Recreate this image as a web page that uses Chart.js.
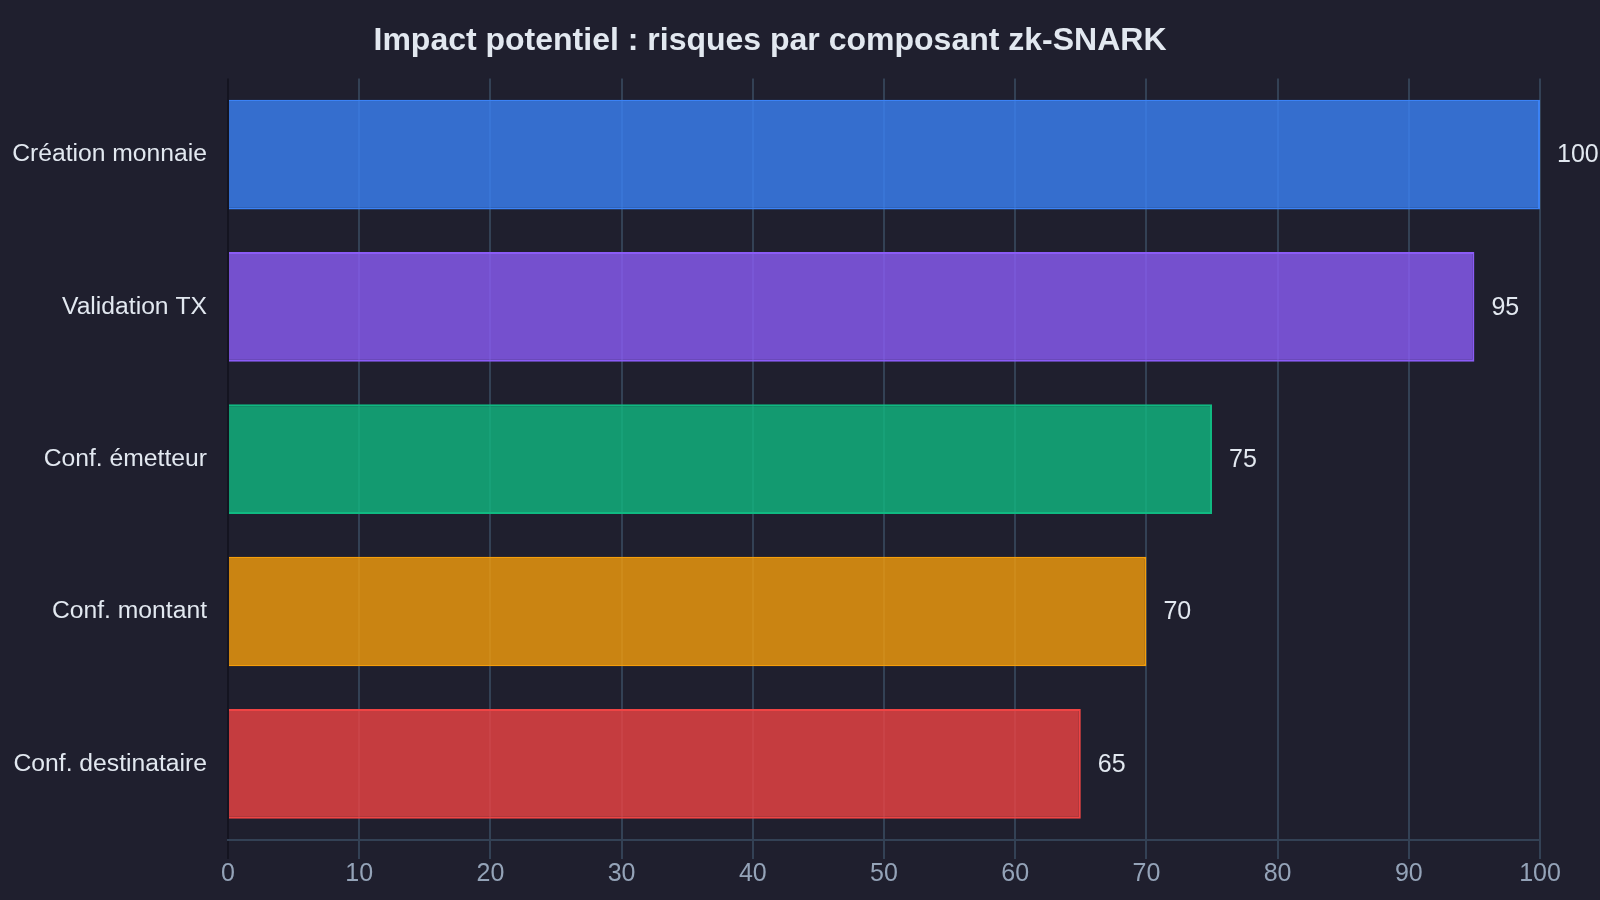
<!DOCTYPE html>
<html>
<head>
<meta charset="utf-8">
<script src="https://cdn.jsdelivr.net/npm/chart.js@4.4.1/dist/chart.umd.min.js"></script>
<style>
html,body{margin:0;padding:0;background:#1f1f2e;}
canvas{display:block;}
</style>
</head>
<body>
<canvas id="c" width="1600" height="900"></canvas>
<script>
const titleText = 'Impact potentiel : risques par composant zk-SNARK';
const categories = ['Création monnaie', 'Validation TX', 'Conf. émetteur', 'Conf. montant', 'Conf. destinataire'];
const impactValues = [100, 95, 75, 70, 65];
const fillColors = ['rgba(59,130,246,0.8)', 'rgba(139,92,246,0.8)', 'rgba(16,185,129,0.8)', 'rgba(245,158,11,0.8)', 'rgba(239,68,68,0.8)'];
const borderColors = ['#3b82f6', '#8b5cf6', '#10b981', '#f59e0b', '#ef4444'];
const xMin = 0, xMax = 100, xStep = 10;

Chart.defaults.font.family = '"Liberation Sans", Arial, sans-serif';

const bgPlugin = {
  id: 'bg',
  beforeDraw(chart) {
    const c = chart.ctx;
    c.save();
    c.fillStyle = '#1f1f2e';
    c.fillRect(0, 0, chart.width, chart.height);
    c.restore();
  }
};

const valueLabels = {
  id: 'valueLabels',
  afterDatasetsDraw(chart) {
    const c = chart.ctx;
    const meta = chart.getDatasetMeta(0);
    c.save();
    c.font = '25px "Liberation Sans", Arial, sans-serif';
    c.fillStyle = '#e2e8f0';
    c.textAlign = 'left';
    c.textBaseline = 'middle';
    meta.data.forEach((bar, i) => {
      c.fillText(String(chart.data.datasets[0].data[i]), bar.x + 17, bar.y + 1);
    });
    c.restore();
  }
};

new Chart(document.getElementById('c'), {
  type: 'bar',
  data: {
    labels: categories,
    datasets: [{
      data: impactValues,
      backgroundColor: fillColors,
      borderColor: borderColors,
      borderWidth: 2
    }]
  },
  options: {
    indexAxis: 'y',
    responsive: false,
    animation: false,
    devicePixelRatio: 1,
    layout: { padding: { left: 0, right: 60, top: 0, bottom: 11 } },
    plugins: {
      legend: { display: false },
      tooltip: { enabled: false },
      title: {
        display: true,
        text: titleText,
        color: '#e2e8f0',
        font: { size: 32, weight: 'bold' },
        padding: { top: 22, bottom: 18 }
      }
    },
    scales: {
      x: {
        min: xMin,
        max: xMax,
        ticks: { stepSize: xStep, color: '#94a3b8', font: { size: 25 }, padding: 0 },
        grid: {
          color: (ctx) => ctx.index === 0 ? '#141420' : '#334155',
          lineWidth: 2,
          tickLength: 19
        },
        border: { color: '#334155', width: 2 }
      },
      y: {
        afterFit: (s) => { s.width = 228; },
        ticks: { color: '#e2e8f0', font: { size: 24.7 }, padding: 13 },
        grid: { display: false },
        border: { display: false }
      }
    }
  },
  plugins: [bgPlugin, valueLabels]
});
</script>
</body>
</html>
